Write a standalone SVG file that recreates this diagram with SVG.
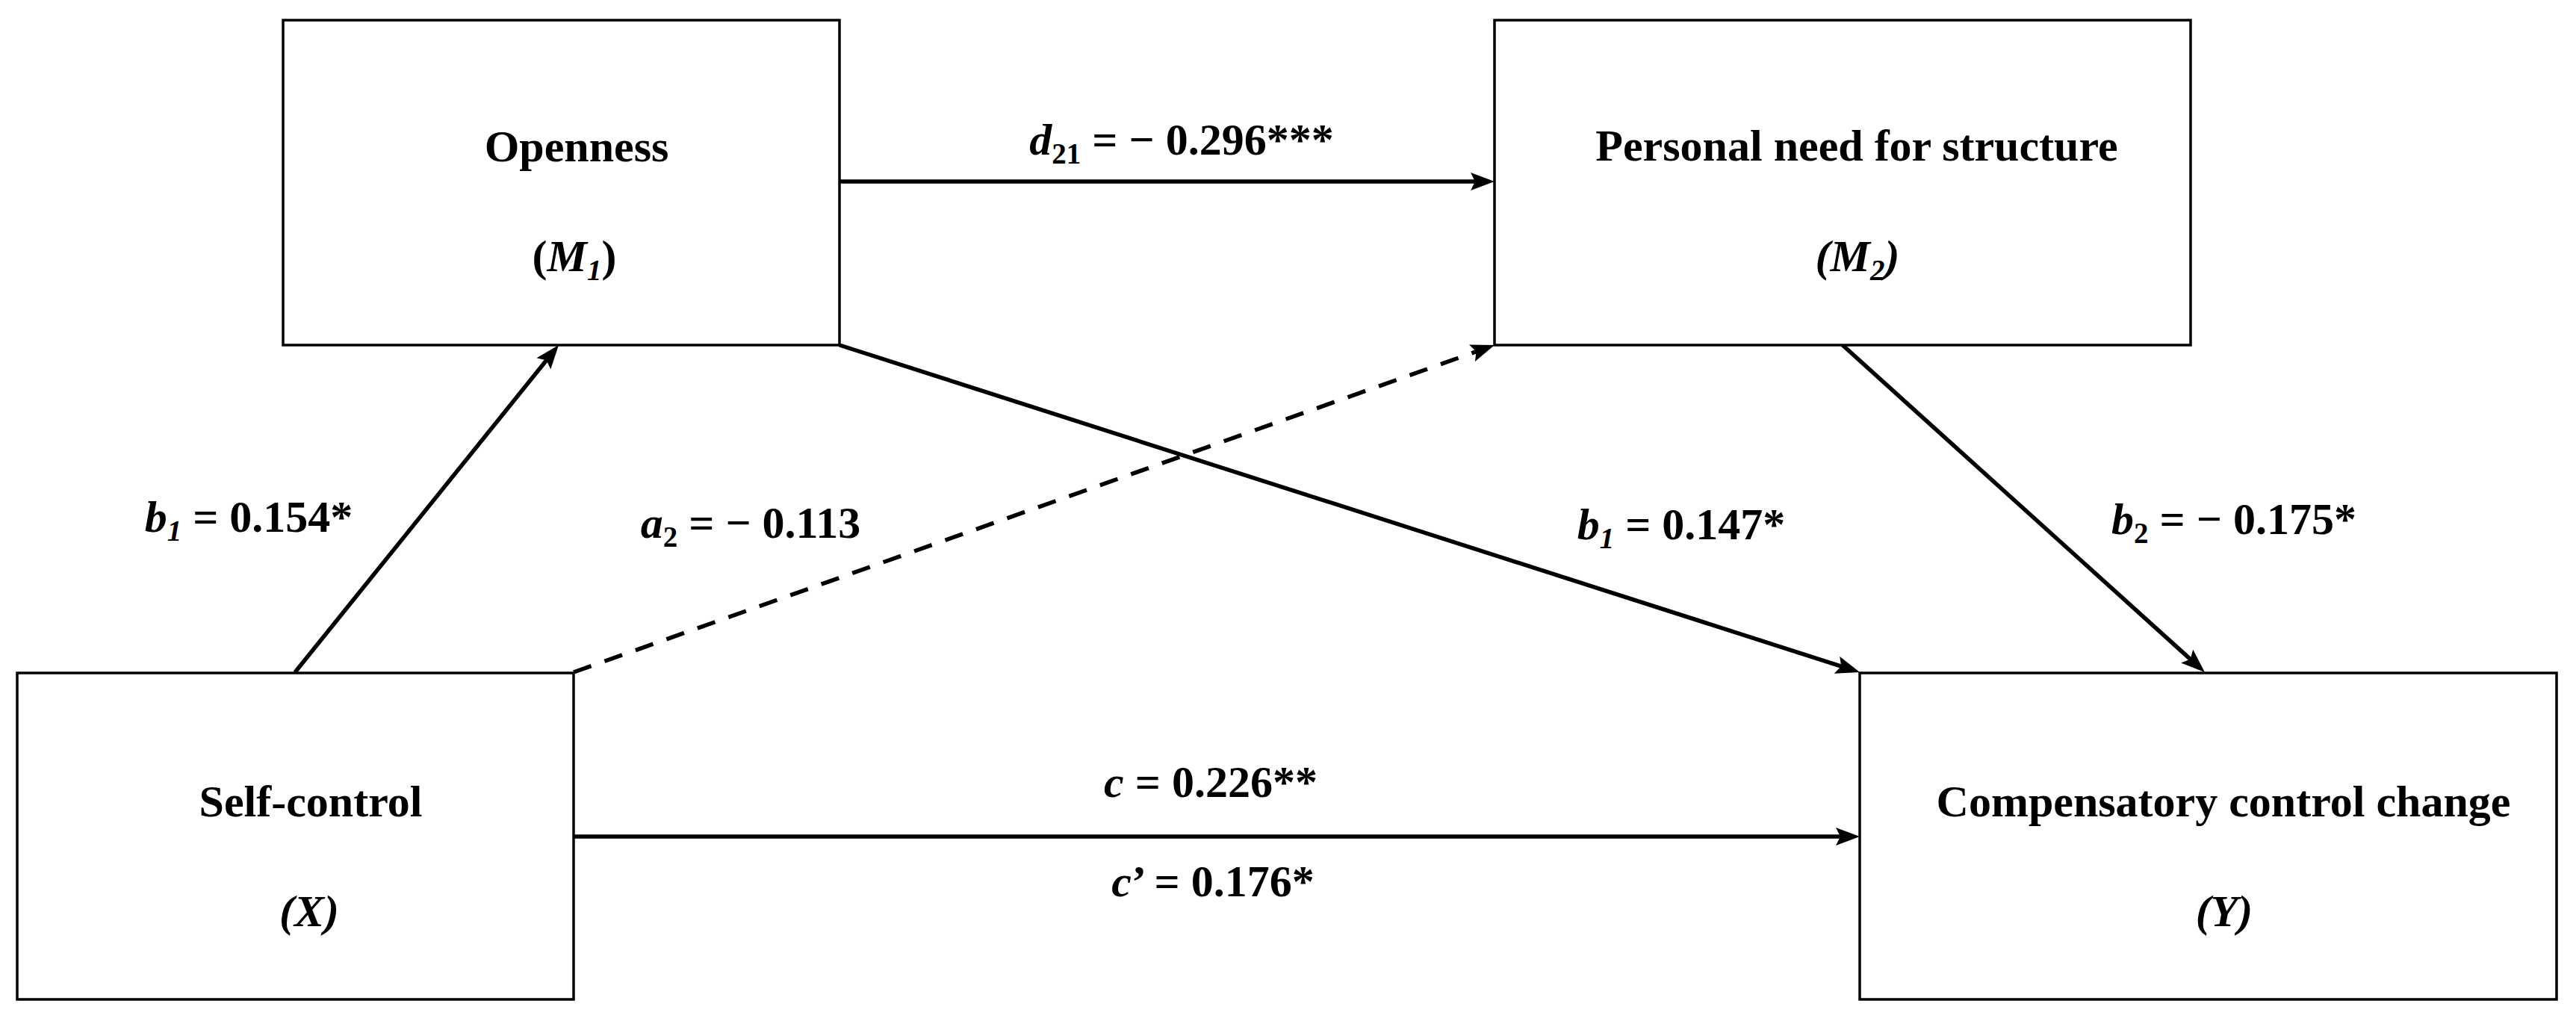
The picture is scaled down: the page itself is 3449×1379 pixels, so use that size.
<svg xmlns="http://www.w3.org/2000/svg" width="3449" height="1379" viewBox="0 0 3449 1379">
<style>
.box{fill:#fff;stroke:#000;stroke-width:3.5}
.t{font-family:"Liberation Serif","Times New Roman",serif;font-weight:bold;font-size:60px;fill:#000;text-anchor:middle}
.i{font-style:italic}
.sub{font-size:39px}
.edge{stroke:#000;stroke-width:5.5;fill:none}
.dash{stroke-dasharray:25 19}
</style>
<defs>
<marker id="ah" markerUnits="userSpaceOnUse" markerWidth="32" markerHeight="24" refX="24" refY="12" orient="auto">
<path d="M0,0 L32,12 L0,24 L6,12 z" fill="#000"/>
</marker>
</defs>
<rect width="3449" height="1379" fill="#fff"/>
<g id="edges">
<line class="edge" x1="395" y1="900" x2="743" y2="468.2" marker-end="url(#ah)"/>
<line class="edge dash" x1="768" y1="900" x2="1993.5" y2="464.7" marker-end="url(#ah)"/>
<line class="edge" x1="1124" y1="243" x2="1993" y2="243" marker-end="url(#ah)"/>
<line class="edge" x1="1124" y1="462" x2="2482.4" y2="897.6" marker-end="url(#ah)"/>
<line class="edge" x1="2467" y1="462" x2="2946" y2="894.6" marker-end="url(#ah)"/>
<line class="edge" x1="768" y1="1120" x2="2482" y2="1120" marker-end="url(#ah)"/>
</g>
<g id="node-openness">
<rect class="box" x="379" y="27" width="745" height="435"/>
<text class="t" x="772" y="216">Openness</text>
<text class="t" x="769" y="363">(<tspan class="i">M</tspan><tspan class="i sub" dy="12">1</tspan><tspan dy="-12">)</tspan></text>
</g>
<g id="node-structure">
<rect class="box" x="2001" y="27" width="932" height="435"/>
<text class="t" x="2486" y="215">Personal need for structure</text>
<text class="t i" x="2487" y="363">(M<tspan class="sub" dy="12">2</tspan><tspan dy="-12">)</tspan></text>
</g>
<g id="node-selfcontrol">
<rect class="box" x="23" y="901" width="745" height="437"/>
<text class="t" x="416" y="1093">Self-control</text>
<text class="t i" x="414" y="1240">(X)</text>
</g>
<g id="node-compensatory">
<rect class="box" x="2490" y="901" width="933" height="437"/>
<text class="t" x="2977" y="1093">Compensatory control change</text>
<text class="t i" x="2978" y="1240">(Y)</text>
</g>
<g id="labels">
<text class="t" x="1582" y="207"><tspan class="i">d</tspan><tspan class="sub" dy="12">21</tspan><tspan dy="-12"> = − 0.296***</tspan></text>
<text class="t" x="333" y="712"><tspan class="i">b</tspan><tspan class="i sub" dy="12">1</tspan><tspan dy="-12"> = 0.154*</tspan></text>
<text class="t" x="1005" y="720"><tspan class="i">a</tspan><tspan class="sub" dy="12">2</tspan><tspan dy="-12"> = − 0.113</tspan></text>
<text class="t" x="2251" y="722"><tspan class="i">b</tspan><tspan class="i sub" dy="12">1</tspan><tspan dy="-12"> = 0.147*</tspan></text>
<text class="t" x="2991" y="715"><tspan class="i">b</tspan><tspan class="sub" dy="12">2</tspan><tspan dy="-12"> = − 0.175*</tspan></text>
<text class="t" x="1621" y="1067"><tspan class="i">c</tspan> = 0.226**</text>
<text class="t" x="1624" y="1200"><tspan class="i">c</tspan>’ = 0.176*</text>
</g>
</svg>
